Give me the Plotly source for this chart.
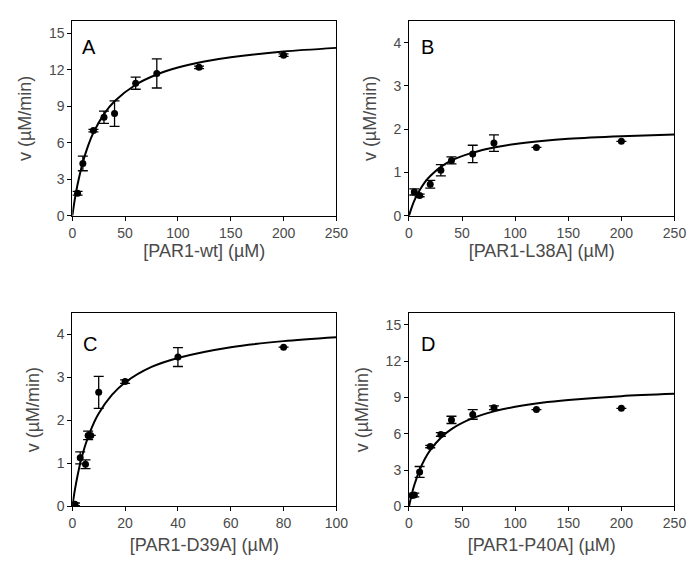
import plotly.graph_objects as go

# ---------------- data ----------------
# Panel A: PAR1-wt
a_x = [5, 10, 20, 30, 40, 60, 80, 120, 200]
a_y = [1.85, 4.3, 7.0, 8.1, 8.4, 10.9, 11.7, 12.2, 13.2]
a_err = [0.15, 0.6, 0.1, 0.5, 1.05, 0.5, 1.2, 0.1, 0.1]
a_fit_x = [0, 2.5, 5, 10, 15, 20, 30, 40, 60, 80, 100, 125, 150, 200, 250]
a_fit_y = [0, 1.41, 2.57, 4.40, 5.77, 6.83, 8.36, 9.41, 10.77, 11.61, 12.18, 12.68, 13.03, 13.50, 13.80]

# Panel B: PAR1-L38A
b_x = [5, 10, 20, 30, 40, 60, 80, 120, 200]
b_y = [0.55, 0.47, 0.73, 1.05, 1.28, 1.43, 1.68, 1.58, 1.72]
b_err = [0.07, 0.03, 0.09, 0.13, 0.08, 0.2, 0.19, 0.0, 0.0]
b_fit_x = [0, 2.5, 5, 10, 15, 20, 30, 40, 60, 80, 100, 125, 150, 200, 250]
b_fit_y = [0, 0.19, 0.35, 0.59, 0.78, 0.92, 1.13, 1.28, 1.46, 1.58, 1.66, 1.73, 1.78, 1.84, 1.88]

# Panel C: PAR1-D39A
c_x = [1, 3, 5, 6, 7, 10, 20, 40, 80]
c_y = [0.05, 1.13, 0.98, 1.65, 1.65, 2.65, 2.9, 3.47, 3.7]
c_err = [0.03, 0.14, 0.1, 0.1, 0.0, 0.37, 0.04, 0.22, 0.0]
c_fit_x = [0, 1, 2, 3, 5, 7.5, 10, 15, 20, 30, 40, 60, 80, 100]
c_fit_y = [0, 0.39, 0.72, 1.00, 1.44, 1.85, 2.16, 2.59, 2.88, 3.24, 3.45, 3.70, 3.84, 3.93]

# Panel D: PAR1-P40A
d_x = [3, 5, 10, 20, 30, 40, 60, 80, 120, 200]
d_y = [0.9, 0.95, 2.85, 4.95, 5.95, 7.15, 7.6, 8.15, 8.0, 8.1]
d_err = [0.0, 0.15, 0.45, 0.1, 0.15, 0.3, 0.4, 0.15, 0.0, 0.0]
d_fit_x = [0, 2.5, 5, 10, 15, 20, 30, 40, 60, 80, 100, 125, 150, 200, 250]
d_fit_y = [0, 0.97, 1.77, 3.01, 3.94, 4.65, 5.68, 6.39, 7.29, 7.85, 8.23, 8.56, 8.79, 9.11, 9.30]

x_titles = ["[PAR1-wt] (µM)", "[PAR1-L38A] (µM)", "[PAR1-D39A] (µM)", "[PAR1-P40A] (µM)"]
y_title = "v (µM/min)"
letters = ["A", "B", "C", "D"]
x_ranges = [[0, 250], [0, 250], [0, 100], [0, 250]]
x_dticks = [50, 50, 20, 50]
y_ranges = [[0, 16], [0, 4.5], [0, 4.5], [0, 16]]
y_dticks = [3, 1, 1, 3]

panels = [
    (a_x, a_y, a_err, a_fit_x, a_fit_y),
    (b_x, b_y, b_err, b_fit_x, b_fit_y),
    (c_x, c_y, c_err, c_fit_x, c_fit_y),
    (d_x, d_y, d_err, d_fit_x, d_fit_y),
]

# ---------------- layout geometry ----------------
W, H = 699, 575
x_doms = [[61.7 / W, 332 / W], [406.3 / W, 678 / W], [61.7 / W, 332 / W], [406.3 / W, 678 / W]]
y_doms = [[1 - 210.7 / H, 1 - 13.3 / H], [1 - 210.7 / H, 1 - 13.3 / H],
          [1 - 505.5 / H, 1 - 309 / H], [1 - 505.5 / H, 1 - 309 / H]]
letter_pos = [(79, 40), (425, 40), (80, 341), (426, 341)]
x_standoffs = [1, 1, 8, 8]

FONT = "Liberation Sans, Arial, sans-serif"
TXT = "#4a4a4a"

fig = go.Figure()
layout = dict(
    width=W, height=H,
    margin=dict(l=0, r=0, t=0, b=0),
    paper_bgcolor="white", plot_bgcolor="white",
    showlegend=False,
    font=dict(family=FONT, color=TXT),
    annotations=[],
)

for i, (px, py, pe, fx, fy) in enumerate(panels):
    n = "" if i == 0 else str(i + 1)
    xa, ya = "x" + n, "y" + n
    fig.add_trace(go.Scatter(
        x=fx, y=fy, mode="lines", line=dict(color="black", width=2, shape="spline", smoothing=0.8),
        xaxis=xa, yaxis=ya, hoverinfo="skip"))
    fig.add_trace(go.Scatter(
        x=px, y=py, mode="markers",
        marker=dict(color="black", size=7),
        error_y=dict(type="data", array=pe, visible=True, color="black", thickness=1.3, width=5),
        xaxis=xa, yaxis=ya))
    layout["xaxis" + n] = dict(
        domain=x_doms[i], anchor=ya, range=x_ranges[i], dtick=x_dticks[i], tick0=0,
        showline=True, linecolor="black", linewidth=1, mirror=True,
        ticks="outside", ticklen=4, tickcolor="black",
        showgrid=False, zeroline=False,
        tickfont=dict(size=14, color=TXT, family=FONT),
        title=dict(text=x_titles[i], font=dict(size=18, color=TXT, family=FONT), standoff=x_standoffs[i]),
    )
    layout["yaxis" + n] = dict(
        domain=y_doms[i], anchor=xa, range=y_ranges[i], dtick=y_dticks[i], tick0=0,
        showline=True, linecolor="black", linewidth=1, mirror=True,
        ticks="outside", ticklen=4, tickcolor="black",
        showgrid=False, zeroline=False,
        tickfont=dict(size=14, color=TXT, family=FONT),
        title=dict(text=y_title, font=dict(size=18, color=TXT, family=FONT), standoff=12),
    )
    lx, ly = letter_pos[i]
    layout["annotations"].append(dict(
        text=letters[i], x=lx / W, y=1 - ly / H, xref="paper", yref="paper",
        showarrow=False, xanchor="center", yanchor="middle",
        font=dict(size=20, color="black", family=FONT)))

fig.update_layout(**layout)
fig.write_html("out.html")
